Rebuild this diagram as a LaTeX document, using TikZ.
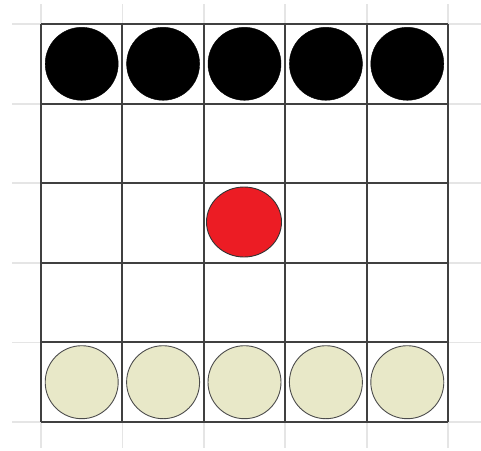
\documentclass[tikz,border=0pt]{standalone}
\usetikzlibrary{shapes.geometric}
\begin{document}
\begin{tikzpicture}[x=1pt,y=-1pt,
  faint/.style={draw=black!10,line width=1.8pt},
  board/.style={draw=black!75,line width=2pt},
  blackstone/.style={circle,fill=black,draw=black,minimum size=73pt,inner sep=0pt},
  creamstone/.style={circle,fill={rgb,255:red,232;green,232;blue,200},draw=black!70,line width=0.9pt,minimum size=73pt,inner sep=0pt},
  redstone/.style={ellipse,fill={rgb,255:red,236;green,28;blue,36},draw=black!80,line width=0.9pt,minimum width=75pt,minimum height=70pt,inner sep=0pt}]
\useasboundingbox (0,0) rectangle (481,450);
\def\xs{41,122.4,203.8,285.2,366.6,448}
\def\ys{24,103.6,183.2,262.8,342.4,422}
% faint background grid
\foreach \x in \xs {\draw[faint] (\x,4) -- (\x,448);}
\foreach \y in \ys {\draw[faint] (12,\y) -- (481,\y);}
% board
\foreach \x in \xs {\draw[board] (\x,24) -- (\x,422);}
\foreach \y in \ys {\draw[board] (41,\y) -- (448,\y);}
% stones
\foreach \i/\x in {1/81.7,2/163.1,3/244.5,4/325.9,5/407.3} {
  \node[blackstone] (b\i) at (\x,63.8) {};
  \node[creamstone] (c\i) at (\x,382.2) {};
}
\node[redstone] (r) at (244,222) {};
\end{tikzpicture}
\end{document}
